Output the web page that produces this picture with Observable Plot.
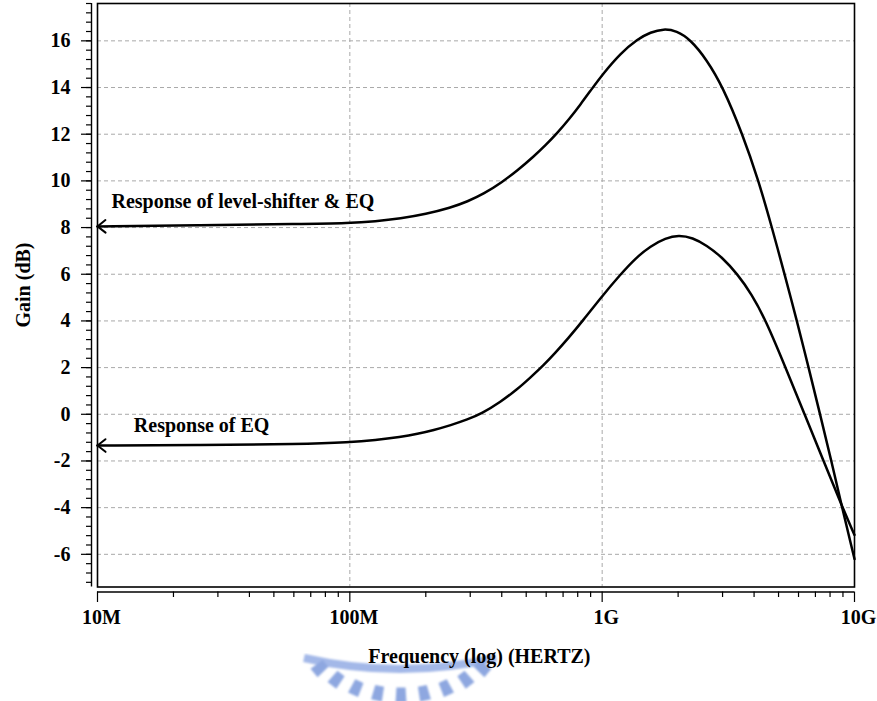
<!DOCTYPE html>
<html>
<head>
<meta charset="utf-8">
<script src="https://cdn.jsdelivr.net/npm/d3@7"></script>
<script src="https://cdn.jsdelivr.net/npm/@observablehq/plot@0.6"></script>
<style>
  html, body { margin: 0; padding: 0; background: #fff; }
  #chart svg { display: block; }
</style>
</head>
<body>
<div id="chart"></div>
<script>
// Frequency in MHz, gain in dB
const shifterFreq = [10, 25.6, 63.8, 100, 126, 159, 200, 251, 293, 339, 403, 462, 535, 597, 660, 743, 821, 900, 1004, 1183, 1381, 1556, 1751, 1972, 2241, 2593, 3001, 3601, 4168, 4694, 5284, 5896, 6578, 7304, 8076, 8889, 9746, 10000];
const shifterGain = [8.05, 8.10, 8.15, 8.19, 8.265, 8.39, 8.58, 8.85, 9.12, 9.44, 9.96, 10.45, 11.04, 11.53, 12.02, 12.67, 13.28, 13.87, 14.57, 15.47, 16.08, 16.37, 16.52, 16.43, 16.05, 15.2, 14.05, 12.0, 10.0, 8.05, 6.0, 4.05, 2.0, 0.0, -1.95, -3.9, -5.7, -6.2];
const eqFreq = [10, 25.6, 63.8, 100, 126, 159, 185.5, 214.6, 251, 293, 333, 395.7, 462, 520, 586, 654, 729, 844, 985, 1183, 1356, 1556, 1784, 2009, 2282, 2593, 2974, 3441, 3910, 4442, 5333, 6342, 7542, 8971, 10000];
const eqGain = [-1.34, -1.32, -1.28, -1.20, -1.11, -0.97, -0.84, -0.68, -0.47, -0.22, 0.03, 0.53, 1.08, 1.58, 2.1, 2.65, 3.22, 4.05, 4.98, 6.0, 6.69, 7.21, 7.55, 7.68, 7.57, 7.24, 6.75, 6.0, 5.15, 4.05, 2.0, 0.0, -2.0, -4.0, -5.17];

// Curve captions and where they sit (frequency MHz, gain dB at the text baseline)
const captionText = ["Response of level-shifter & EQ", "Response of EQ"];
const captionFreq = [11.36, 13.93];
const captionGain = [8.83, -0.745];

const xTickValues = [10, 100, 1000, 10000];
const xTickLabels = ["10M", "100M", "1G", "10G"];
const yTickValues = [-6, -4, -2, 0, 2, 4, 6, 8, 10, 12, 14, 16];
const xTitle = "Frequency (log) (HERTZ)";
const yTitle = "Gain (dB)";

const yDomain = [-7.4, 17.6];
const xDomain = [10, 10000];

// minor ticks: 0.4 dB steps, and 2..9 within each decade
const yMinor = d3.range(-18, 45).map(k => Math.round(k * 0.4 * 10) / 10).filter(v => v >= -7.3 && v <= 17.6);
const xMinor = [10, 100, 1000].flatMap(d => d3.range(2, 10).map(m => d * m));

const shifter = shifterFreq.map((f, i) => ({f, g: shifterGain[i]}));
const eq = eqFreq.map((f, i) => ({f, g: eqGain[i]}));
const captions = captionText.map((t, i) => ({t, f: captionFreq[i], g: captionGain[i]}));

const font = "'Liberation Serif', 'Times New Roman', Times, serif";
const gridStyle = {stroke: "#a9a9a9", strokeOpacity: 1, strokeWidth: 1, strokeDasharray: "4,3"};

// open chevron at the start of each curve, pointing back at the gain axis
function chevron(color) {
  const m = d3.create("svg:marker")
    .attr("viewBox", "-10 -8 12 16")
    .attr("markerWidth", 12)
    .attr("markerHeight", 16)
    .attr("markerUnits", "userSpaceOnUse")
    .attr("orient", "auto-start-reverse")
    .attr("overflow", "visible")
    .attr("fill", "none")
    .attr("stroke", color)
    .attr("stroke-width", 2)
    .attr("stroke-linejoin", "miter");
  m.append("path").attr("d", "M-8,-6.3L0,0L-8,6.3");
  return m.node();
}

const chart = Plot.plot({
  width: 877,
  height: 701,
  marginLeft: 97,
  marginRight: 23,
  marginTop: 3,
  marginBottom: 114.5,
  style: {fontFamily: font, fontSize: "20px", fontWeight: "bold", background: "#fff", color: "#000"},
  x: {type: "log", domain: xDomain, label: null},
  y: {domain: yDomain, label: null},
  marks: [
    Plot.gridX([100, 1000], gridStyle),
    Plot.gridY(yTickValues, gridStyle),
    Plot.frame({stroke: "#000", strokeWidth: 1.6}),
    // detached axis lines
    Plot.ruleX([xDomain[0]], {dx: -6, stroke: "#000", strokeWidth: 1.4}),
    Plot.ruleY([yDomain[0]], {dy: 5, stroke: "#000", strokeWidth: 1.4}),
    // y axis ticks and labels
    Plot.axisY(yMinor, {dx: -6, tickSize: 5, fill: "none", label: null, strokeWidth: 1.2}),
    Plot.axisY(yTickValues, {dx: -6, tickSize: 10, tickPadding: 11, label: null, strokeWidth: 1.2,
      fontSize: 20, fontWeight: "bold", tickFormat: d => String(d)}),
    // x axis ticks and labels
    Plot.axisX(xMinor, {dy: 5, tickSize: 5.5, fill: "none", label: null, strokeWidth: 1.2}),
    Plot.axisX(xTickValues, {dy: 5, tickSize: 10.5, fill: "none", label: null, strokeWidth: 1.2}),
    Plot.axisX(xTickValues, {dy: 5, dx: 4, tickSize: 0, tickPadding: 17.5, label: null,
      fontSize: 20, fontWeight: "bold", tickFormat: d => xTickLabels[xTickValues.indexOf(d)]}),
    // curves
    Plot.line(shifter, {x: "f", y: "g", stroke: "#000", strokeWidth: 2.5, curve: "basis", markerStart: chevron}),
    Plot.line(eq, {x: "f", y: "g", stroke: "#000", strokeWidth: 2.5, curve: "basis", markerStart: chevron}),
    // captions
    Plot.text(captions, {x: "f", y: "g", text: "t", textAnchor: "start", lineAnchor: "bottom",
      fontSize: 20, fontWeight: "bold", fill: "#000"}),
    // axis titles
    Plot.text([xTitle], {frameAnchor: "bottom", textAnchor: "middle", dx: 3.4, dy: 76.2, lineAnchor: "bottom",
      fontSize: 20, fontWeight: "bold", fill: "#000"}),
    Plot.text([yTitle], {frameAnchor: "left", textAnchor: "middle", lineAnchor: "middle", rotate: -90, dx: -74, dy: -10.25,
      fontSize: 20, fontWeight: "bold", fill: "#000"})
  ]
});

// faint blue seal printed under the frequency title
const svg = d3.select(chart);
const defs = svg.insert("defs", ":first-child");
defs.append("filter").attr("id", "seal-soft")
  .append("feGaussianBlur").attr("stdDeviation", 0.9);
const seal = svg.insert("g", "defs + *")
  .attr("fill", "#8ea7e0")
  .attr("stroke", "none")
  .attr("filter", "url(#seal-soft)");
seal.append("path")
  .attr("d", "M304,658 Q400,680 496,658")
  .attr("fill", "none")
  .attr("stroke", "#a3b8e8")
  .attr("stroke-width", 8);
const cx = 401, cy = 620, rx = 106, ry = 75;
d3.range(40, 141, 12.5).forEach(t => {
  const a = t * Math.PI / 180;
  const px = cx + rx * Math.cos(a), py = cy + ry * Math.sin(a);
  const phi = Math.atan2(Math.sin(a), Math.cos(a)) * 180 / Math.PI;
  seal.append("path")
    .attr("d", "M-7.5,-4.5L7.5,-5.5L7.5,5.5L-7.5,4.5Z")
    .attr("transform", `translate(${px},${py}) rotate(${phi})`);
});

document.getElementById("chart").appendChild(chart);
</script>
</body>
</html>
